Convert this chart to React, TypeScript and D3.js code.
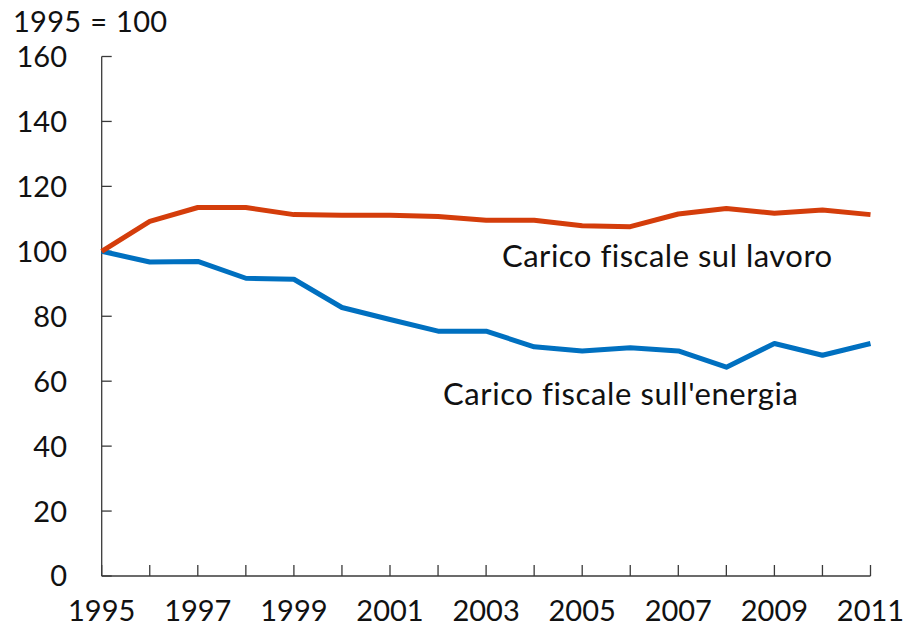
import React from "react";
import * as d3 from "d3";

const years = [1995, 1996, 1997, 1998, 1999, 2000, 2001, 2002, 2003, 2004, 2005, 2006, 2007, 2008, 2009, 2010, 2011];
const lavoro = [100, 109.2, 113.5, 113.5, 111.3, 111.1, 111.1, 110.7, 109.6, 109.6, 107.9, 107.6, 111.5, 113.2, 111.7, 112.7, 111.3];
const energia = [100, 96.7, 96.9, 91.7, 91.4, 82.7, 79.0, 75.4, 75.4, 70.6, 69.3, 70.3, 69.3, 64.3, 71.6, 68.0, 71.6];
const yTicks = [0, 20, 40, 60, 80, 100, 120, 140, 160];
const xTickLabels = [1995, 1997, 1999, 2001, 2003, 2005, 2007, 2009, 2011];
const unitLabel = "1995 = 100";
const labelLavoro = "Carico fiscale sul lavoro";
const labelEnergia = "Carico fiscale sull'energia";

const FONT = "Lato, 'Open Sans', sans-serif";

export default function App() {
  const x = d3.scaleLinear().domain([1995, 2011]).range([101.7, 870.5]);
  const y = d3.scaleLinear().domain([0, 160]).range([576, 56.5]);
  const line = d3
    .line<number>()
    .x((_, i) => x(years[i]))
    .y((d) => y(d));
  const axisColor = "#3a3a3a";
  const labelStyle = { fontVariantLigatures: "none" as const };
  return (
    <svg width={908} height={626} style={{ position: "absolute", left: 0, top: 0 }} fontFamily={FONT}>
      <rect width={908} height={626} fill="#fff" />
      <text x={13} y={32} fontSize={29} wordSpacing={1} letterSpacing={0.3} fill="#111">{unitLabel}</text>
      {/* y axis */}
      <line x1={x(1995)} x2={x(1995)} y1={y(160)} y2={y(0)} stroke={axisColor} strokeWidth={1.3} />
      {yTicks.map((t) => (
        <g key={t}>
          <line x1={x(1995)} x2={x(1995) + 10} y1={y(t)} y2={y(t)} stroke={axisColor} strokeWidth={1.3} />
          <text x={67} y={y(t)} dy="0.36em" textAnchor="end" fontSize={29} fill="#111">{t}</text>
        </g>
      ))}
      {/* x axis */}
      <line x1={x(1995)} x2={x(2011)} y1={y(0)} y2={y(0)} stroke={axisColor} strokeWidth={1.3} />
      {years.map((yr) => (
        <line key={yr} x1={x(yr)} x2={x(yr)} y1={y(0)} y2={y(0) - 11} stroke={axisColor} strokeWidth={1.3} />
      ))}
      {xTickLabels.map((yr) => (
        <text key={yr} x={x(yr)} y={621} textAnchor="middle" fontSize={29} fill="#111">{yr}</text>
      ))}
      {/* lines */}
      <path d={line(energia) || ""} fill="none" stroke="#0070C0" strokeWidth={5} strokeLinejoin="round" />
      <path d={line(lavoro) || ""} fill="none" stroke="#D43D0B" strokeWidth={5} strokeLinejoin="round" />
      <text x={502} y={267} fontSize={31} letterSpacing={0.5} style={labelStyle} fill="#111">{labelLavoro}</text>
      <text x={443} y={405} fontSize={31} letterSpacing={0.6} style={labelStyle} fill="#111">{labelEnergia}</text>
    </svg>
  );
}
